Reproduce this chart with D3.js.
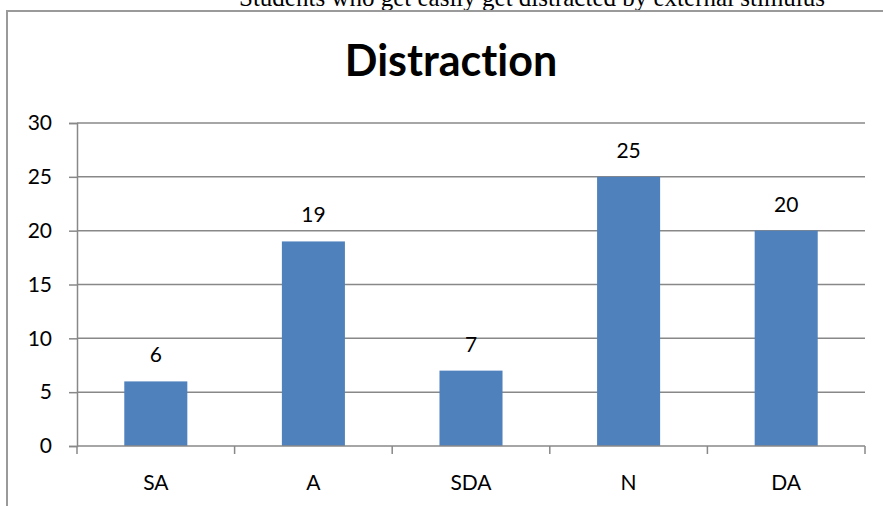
<!DOCTYPE html>
<html>
<head>
<meta charset="utf-8">
<script src="https://cdn.jsdelivr.net/npm/d3@7/dist/d3.min.js"></script>
<style>
  html, body { margin: 0; padding: 0; background: #fff; }
  svg { display: block; }
  text { font-variant-ligatures: none; }
</style>
</head>
<body>
<svg id="chart" width="883" height="506"></svg>
<script>
// Survey responses: students who get easily distracted by external stimulus
const categories = ["SA", "A", "SDA", "N", "DA"];
const counts = [6, 19, 7, 25, 20];
const yTicks = [0, 5, 10, 15, 20, 25, 30];
const chartTitle = "Distraction";
const caption = "Students who get easily get distracted by external stimulus";

const svg = d3.select("#chart");
const W = 883, H = 506;
const plot = { left: 77, right: 865, top: 123, bottom: 446 };
const gridColor = "#888";
const labelFont = "Lato, 'Open Sans', 'DejaVu Sans', sans-serif";

// Caption line above the chart frame (partly cut off at the top edge)
svg.append("text")
  .attr("x", 532).attr("y", 6)
  .attr("text-anchor", "middle")
  .attr("font-family", "'Liberation Serif', 'Times New Roman', serif")
  .attr("font-size", 25)
  .attr("fill", "#000")
  .text(caption);

// Chart frame
svg.append("rect")
  .attr("x", 7).attr("y", 11)
  .attr("width", W + 20).attr("height", H + 20)
  .attr("fill", "#fff")
  .attr("stroke", "#9a9a9a")
  .attr("stroke-width", 2);

// Title
svg.append("text")
  .attr("x", 451).attr("y", 76)
  .attr("text-anchor", "middle")
  .attr("font-family", labelFont)
  .attr("font-weight", "bold")
  .attr("font-size", 43)
  .attr("fill", "#000")
  .text(chartTitle);

const x = d3.scaleBand()
  .domain(categories)
  .range([plot.left, plot.right])
  .padding(0);

const y = d3.scaleLinear()
  .domain([0, 30])
  .range([plot.bottom, plot.top]);

// Horizontal gridlines
svg.append("g")
  .selectAll("line")
  .data(yTicks.filter(t => t > 0))
  .join("line")
  .attr("x1", plot.left).attr("x2", plot.right)
  .attr("y1", d => y(d)).attr("y2", d => y(d))
  .attr("stroke", gridColor)
  .attr("stroke-width", 1.5);

// Y axis
const yAxis = svg.append("g")
  .attr("transform", `translate(${plot.left},0)`)
  .call(d3.axisLeft(y).tickValues(yTicks).tickSize(8).tickPadding(17));
yAxis.select(".domain").attr("stroke", gridColor).attr("stroke-width", 1.5);
yAxis.selectAll(".tick line").attr("stroke", gridColor).attr("stroke-width", 1.5);
yAxis.selectAll(".tick text")
  .attr("font-family", labelFont)
  .attr("font-size", 21)
  .attr("fill", "#000");

// Bars
const barW = x.bandwidth() * 0.4;
svg.append("g")
  .selectAll("rect")
  .data(categories.map((c, i) => ({ c, v: counts[i] })))
  .join("rect")
  .attr("x", d => x(d.c) + (x.bandwidth() - barW) / 2)
  .attr("width", barW)
  .attr("y", d => y(d.v))
  .attr("height", d => y(0) - y(d.v))
  .attr("fill", "#4F81BD");

// X axis with ticks at category boundaries
const xAxisG = svg.append("g");
xAxisG.append("line")
  .attr("x1", plot.left).attr("x2", plot.right)
  .attr("y1", y(0)).attr("y2", y(0))
  .attr("stroke", gridColor).attr("stroke-width", 1.5);
const bounds = categories.map(c => x(c)).concat([plot.right]);
xAxisG.selectAll("line.tick")
  .data(bounds)
  .join("line")
  .attr("class", "tick")
  .attr("x1", d => d).attr("x2", d => d)
  .attr("y1", y(0)).attr("y2", y(0) + 8)
  .attr("stroke", gridColor).attr("stroke-width", 1.5);
xAxisG.selectAll("text")
  .data(categories)
  .join("text")
  .attr("x", d => x(d) + x.bandwidth() / 2)
  .attr("y", 490)
  .attr("text-anchor", "middle")
  .attr("font-family", labelFont)
  .attr("font-size", 21)
  .attr("fill", "#000")
  .text(d => d);

// Value labels
svg.append("g")
  .selectAll("text")
  .data(categories.map((c, i) => ({ c, v: counts[i] })))
  .join("text")
  .attr("x", d => x(d.c) + x.bandwidth() / 2)
  .attr("y", d => y(d.v) - 19)
  .attr("text-anchor", "middle")
  .attr("font-family", labelFont)
  .attr("font-size", 21)
  .attr("fill", "#000")
  .text(d => d.v);
</script>
</body>
</html>
